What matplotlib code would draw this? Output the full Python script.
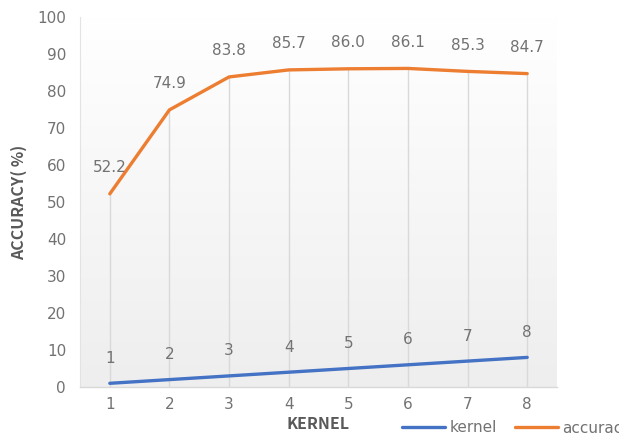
import numpy as np
import matplotlib
matplotlib.use('Agg')
import matplotlib.pyplot as plt
from matplotlib.colors import LinearSegmentedColormap

plt.rcParams['font.family'] = ['DejaVu Sans']

kernel_sizes = [1, 2, 3, 4, 5, 6, 7, 8]
kernel = [1, 2, 3, 4, 5, 6, 7, 8]
accuracy = [52.2, 74.9, 83.8, 85.7, 86.0, 86.1, 85.3, 84.7]
y_ticks = list(range(0, 101, 10))

BLUE = '#4472C4'
ORANGE = '#ED7D31'
TEXT = '#727272'
LABEL_FONT = ['Noto Sans CJK SC', 'DejaVu Sans']

fig = plt.figure(figsize=(6.19, 4.38), dpi=100)
ax = fig.add_axes([80 / 619, 51 / 438, 477 / 619, 370 / 438])

# soft vertical gradient behind the plot
grad = LinearSegmentedColormap.from_list('bg', ['#eeeeee', '#ffffff'])
ax.imshow(np.linspace(0, 1, 256).reshape(-1, 1), cmap=grad, aspect='auto',
          extent=[0.5, 8.5, 0, 100], origin='lower', zorder=0)

# drop lines from the top series down to the axis
for x, a, k in zip(kernel_sizes, accuracy, kernel):
    ax.plot([x, x], [0, max(a, k)], color='#d9d9d9', lw=1, zorder=1)

ax.plot(kernel_sizes, kernel, color=BLUE, lw=2.4, label='kernel', zorder=3,
        solid_capstyle='round')
ax.plot(kernel_sizes, accuracy, color=ORANGE, lw=2.4, label='accuracy', zorder=3,
        solid_capstyle='round')

for x, a in zip(kernel_sizes, accuracy):
    ax.annotate(f'{a:.1f}', (x, a), xytext=(0, 19), textcoords='offset points',
                ha='center', va='center', fontsize=11, color=TEXT)
for x, k in zip(kernel_sizes, kernel):
    ax.annotate(f'{k}', (x, k), xytext=(0, 18), textcoords='offset points',
                ha='center', va='center', fontsize=11, color=TEXT)

ax.set_xlim(0.5, 8.5)
ax.set_ylim(0, 100)
ax.set_xticks(kernel_sizes)
ax.set_yticks(y_ticks)
ax.tick_params(axis='both', length=0, labelsize=11, labelcolor=TEXT)
ax.tick_params(axis='y', pad=10)
ax.tick_params(axis='x', pad=7)

for side in ['top', 'right']:
    ax.spines[side].set_visible(False)
ax.spines['left'].set_color('#e3e3e3')
ax.spines['left'].set_linewidth(0.8)
ax.spines['bottom'].set_color('#d9d9d9')
ax.spines['bottom'].set_linewidth(1)

ax.set_ylabel('ACCURACY( %)', fontsize=11.5, fontweight='bold', color='#595959',
              family=LABEL_FONT)
ax.yaxis.set_label_coords(-53 / 477, 0.5)
ax.set_xlabel('KERNEL', fontsize=11.5, fontweight='bold', color='#595959',
              family=LABEL_FONT)
ax.xaxis.set_label_coords(0.5, -29 / 370)

leg = fig.legend(loc='center left', bbox_to_anchor=(402 / 619, 10 / 438),
                 ncol=2, frameon=False, fontsize=11, handlelength=2.8,
                 handletextpad=0.3, columnspacing=1.2, borderpad=0,
                 borderaxespad=0)
for t in leg.get_texts():
    t.set_color(TEXT)

fig.savefig('out.png', dpi=100)
